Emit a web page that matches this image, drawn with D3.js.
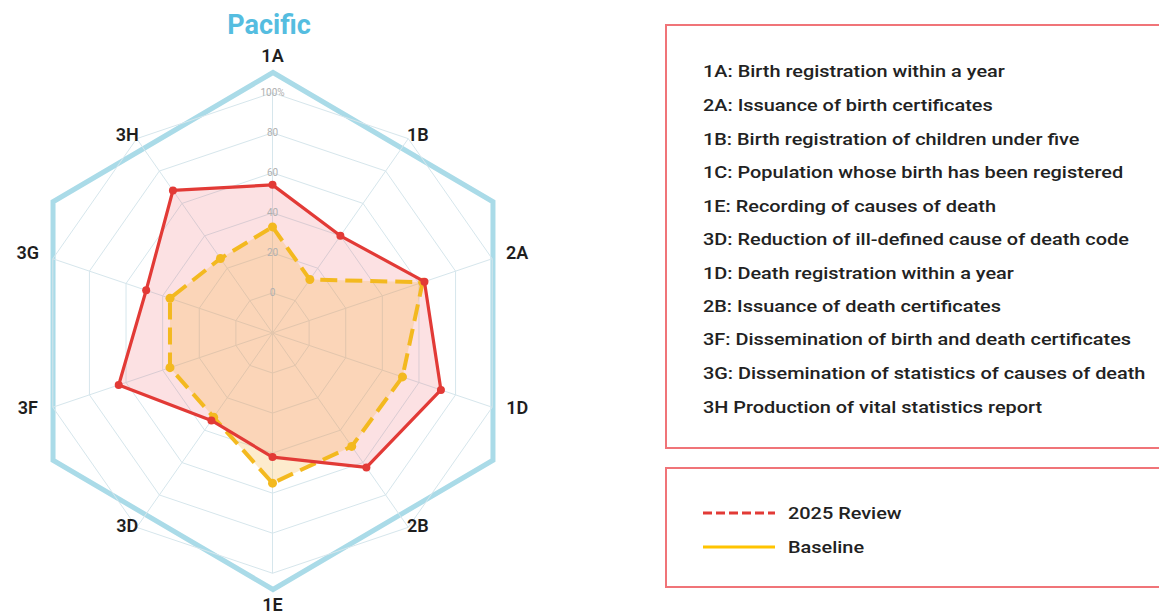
<!DOCTYPE html>
<html>
<head>
<meta charset="utf-8">
<script src="https://cdn.jsdelivr.net/npm/d3@7"></script>
<style>
  body { margin: 0; background: #fff; overflow: hidden; }
  text { font-family: Roboto, "Noto Sans", sans-serif; }
</style>
</head>
<body>
<svg id="chart"></svg>
<script>
// axes in drawing order, clockwise from the top
const axes = ["1A", "1B", "2A", "1D", "2B", "1E", "3D", "3F", "3G", "3H"];
const review2025 = [54, 40, 63, 72, 63, 42, 34, 64, 49, 68];
const baseline = [33, 13, 62, 51, 50, 55, 32, 36, 36, 26];
const ringValues = [0, 20, 40, 60, 80, 100];
const ringLabels = ["0", "20", "40", "60", "80", "100%"];
const seriesNames = ["2025 Review", "Baseline"];
const indicatorNotes = [
  "1A: Birth registration within a year",
  "2A: Issuance of birth certificates",
  "1B: Birth registration of children under five",
  "1C: Population whose birth has been registered",
  "1E: Recording of causes of death",
  "3D: Reduction of ill-defined cause of death code",
  "1D: Death registration within a year",
  "2B: Issuance of death certificates",
  "3F: Dissemination of birth and death certificates",
  "3G: Dissemination of statistics of causes of death",
  "3H Production of vital statistics report"
];
const title = "Pacific";

let width = 1159, height = 614;
const cx = 272.5, cy = 333, sy = 1.04;   // picture is a touch taller than wide
const red = "#e23a36", yellow = "#f3b91f", sky = "#aadbe8";

let svg = d3.select("#chart").attr("width", width).attr("height", height);

// radial scale: the "0" ring sits one step out from the centre
const rScale = d3.scaleLinear().domain([-20, 100]).range([0, 231]);
const angle = d3.scaleLinear().domain([0, axes.length]).range([0, 2 * Math.PI]);

const px = (i, v) => cx + rScale(v) * Math.sin(angle(i));
const py = (i, v) => cy - rScale(v) * Math.cos(angle(i)) * sy;

// outer hexagon frame
const hex = {cx: 273, cy: 331, rx: 254, ry: 258.5};
const hexPts = d3.range(6).map(k => {
  let a = k * Math.PI / 3;
  return [hex.cx + hex.rx * Math.sin(a), hex.cy - hex.ry * Math.cos(a)];
});
svg.append("path")
  .attr("d", d3.line().curve(d3.curveLinearClosed)(hexPts))
  .attr("fill", "none")
  .attr("stroke", sky)
  .attr("stroke-width", 5)
  .attr("stroke-linejoin", "miter");

// grid rings and spokes
const grid = svg.append("g");
ringValues.forEach(v => {
  grid.append("path")
    .attr("d", d3.line().curve(d3.curveLinearClosed)(axes.map((a, i) => [px(i, v), py(i, v)])))
    .attr("fill", "none")
    .attr("stroke", "#d6e6ec")
    .attr("stroke-width", 1);
});
axes.forEach((a, i) => {
  grid.append("line")
    .attr("x1", cx).attr("y1", cy)
    .attr("x2", px(i, 100)).attr("y2", py(i, 100))
    .attr("stroke", "#d6e6ec")
    .attr("stroke-width", 1);
});

// series
const seriesLine = d3.line().curve(d3.curveLinearClosed);
const toPts = vals => vals.map((v, i) => [px(i, v), py(i, v)]);

svg.append("path")
  .attr("d", seriesLine(toPts(review2025)))
  .attr("fill", "rgba(240,90,100,0.18)")
  .attr("stroke", "none");
svg.append("path")
  .attr("d", seriesLine(toPts(baseline)))
  .attr("fill", "rgba(247,180,70,0.27)")
  .attr("stroke", "none");

// ring labels along the top spoke
svg.append("g").selectAll("text")
  .data(ringValues)
  .enter()
  .append("text")
    .attr("x", cx)
    .attr("y", v => py(0, v))
    .attr("text-anchor", "middle")
    .attr("dominant-baseline", "central")
    .style("font-size", "10px")
    .style("fill", "#b0b0b0")
    .text((v, i) => ringLabels[i]);

svg.append("path")
  .attr("d", seriesLine(toPts(baseline)))
  .attr("fill", "none")
  .attr("stroke", yellow)
  .attr("stroke-width", 4)
  .attr("stroke-dasharray", "17,8");
svg.append("g").selectAll("circle")
  .data(baseline)
  .enter()
  .append("circle")
    .attr("cx", (v, i) => px(i, v))
    .attr("cy", (v, i) => py(i, v))
    .attr("r", 4.5)
    .attr("fill", yellow);

svg.append("path")
  .attr("d", seriesLine(toPts(review2025)))
  .attr("fill", "none")
  .attr("stroke", red)
  .attr("stroke-width", 3.2)
  .attr("stroke-linejoin", "round");
svg.append("g").selectAll("circle")
  .data(review2025)
  .enter()
  .append("circle")
    .attr("cx", (v, i) => px(i, v))
    .attr("cy", (v, i) => py(i, v))
    .attr("r", 4)
    .attr("fill", red);

// axis labels sit just outside the hexagon frame
const apothem = hex.rx * Math.cos(Math.PI / 6);
function hexDist(a) {
  let deg = a * 180 / Math.PI;
  let phi = (((deg - 30) % 60) + 60) % 60;
  if (phi > 30) phi -= 60;
  return apothem / Math.cos(phi * Math.PI / 180);
}
const labelR = i => hexDist(angle(i)) + 26;
svg.append("g").selectAll("text")
  .data(axes)
  .enter()
  .append("text")
    .attr("x", (d, i) => cx + labelR(i) * Math.sin(angle(i)))
    .attr("y", (d, i) => 330 - labelR(i) * Math.cos(angle(i)) * 0.98)
    .attr("text-anchor", "middle")
    .attr("dominant-baseline", "central")
    .style("font-size", "18px")
    .style("font-weight", 600)
    .style("fill", "#1e1e1e")
    .text(d => d);

svg.append("text")
  .attr("x", 269).attr("y", 25)
  .attr("text-anchor", "middle")
  .attr("dominant-baseline", "central")
  .style("font-size", "27px")
  .style("font-weight", 700)
  .style("fill", "#55bde0")
  .text(title);

// indicator notes box
svg.append("rect")
  .attr("x", 666).attr("y", 25)
  .attr("width", 520).attr("height", 423)
  .attr("fill", "none")
  .attr("stroke", "#f07478")
  .attr("stroke-width", 2);
// legend lettering in the reference is drawn wide
svg.append("g")
  .attr("transform", "translate(703,0) scale(1.17,1)")
  .selectAll("text")
  .data(indicatorNotes)
  .enter()
  .append("text")
    .attr("x", 0)
    .attr("y", (d, i) => 72 + i * 33.5)
    .attr("dominant-baseline", "central")
    .style("font-size", "17px")
    .style("font-weight", 500)
    .style("fill", "#222")
    .text(d => d);

// series legend box
svg.append("rect")
  .attr("x", 666).attr("y", 468)
  .attr("width", 520).attr("height", 119)
  .attr("fill", "none")
  .attr("stroke", "#f07478")
  .attr("stroke-width", 2);
const legendColors = [red, "#ffc400"];
const legendDash = ["9,4", null];
seriesNames.forEach((name, i) => {
  let y = 513 + i * 34;
  svg.append("line")
    .attr("x1", 703).attr("x2", 775)
    .attr("y1", y).attr("y2", y)
    .attr("stroke", legendColors[i])
    .attr("stroke-width", 3)
    .attr("stroke-dasharray", legendDash[i]);
  svg.append("text")
    .attr("transform", "translate(788," + y + ") scale(1.17,1)")
    .attr("dominant-baseline", "central")
    .style("font-size", "17px")
    .style("font-weight", 500)
    .style("fill", "#222")
    .text(name);
});
</script>
</body>
</html>
